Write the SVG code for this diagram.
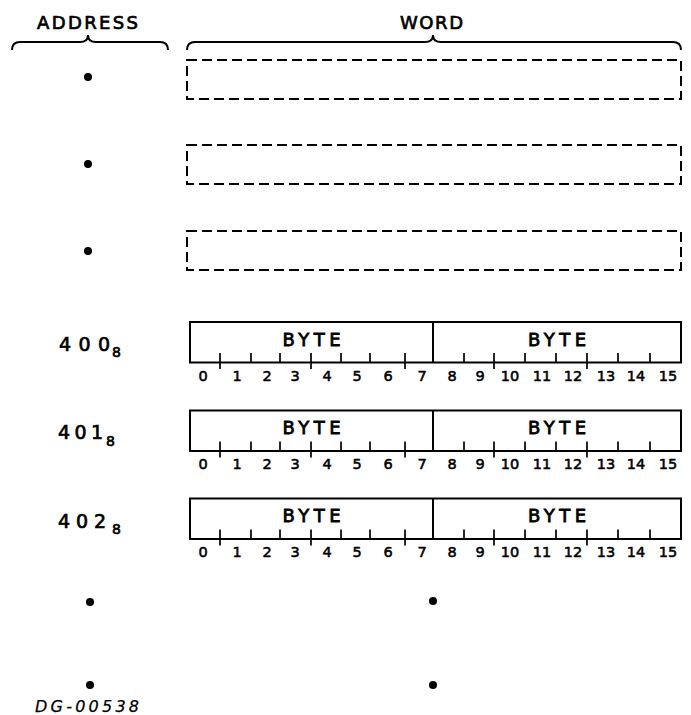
<svg xmlns="http://www.w3.org/2000/svg" width="691" height="715" viewBox="0 0 691 715">
<defs>
<style>
text{font-family:"DejaVu Sans","Liberation Sans",Arial,sans-serif;fill:#000;stroke:#000;stroke-width:0.7}
.hd{font-size:18px}
.addr{font-size:19px}
.sub{font-size:14px}
.byte{font-size:18px;text-anchor:middle;stroke-width:0.8}
.bit{font-size:14.5px;text-anchor:middle;stroke-width:0.55}
.dg{font-size:16px;font-style:italic;stroke-width:0.25}
.ln{fill:none;stroke:#000;stroke-width:2}
.dash{fill:none;stroke:#000;stroke-width:2;stroke-dasharray:10 5}
.tk{stroke:#000;stroke-width:1.7}
.dot{fill:#000}
</style>
<g id="scale">
<path class="tk" d="M251,353V362M280,353V362M341,353V362M370,353V362M464,353V362M525,353V362M556,353V362M618,353V362M650,353V362"/>
<path class="tk" d="M220,353V369M311,353V369M405,353V369M494,353V369M587,353V369"/>
<text class="bit" x="203" y="380.5">0</text>
<text class="bit" x="237" y="380.5">1</text>
<text class="bit" x="267" y="380.5">2</text>
<text class="bit" x="295" y="380.5">3</text>
<text class="bit" x="327" y="380.5">4</text>
<text class="bit" x="357" y="380.5">5</text>
<text class="bit" x="388" y="380.5">6</text>
<text class="bit" x="422" y="380.5">7</text>
<text class="bit" x="452" y="380.5">8</text>
<text class="bit" x="480" y="380.5">9</text>
<text class="bit" x="510" y="380.5">10</text>
<text class="bit" x="542" y="380.5">11</text>
<text class="bit" x="573" y="380.5">12</text>
<text class="bit" x="606" y="380.5">13</text>
<text class="bit" x="636" y="380.5">14</text>
<text class="bit" x="668" y="380.5">15</text>
</g>
<g id="wordbox">
<rect class="ln" x="190" y="322" width="491" height="40.5"/>
<line class="ln" x1="433" y1="322" x2="433" y2="362.5"/>
<text class="byte" x="311.5" y="345.5" textLength="58" lengthAdjust="spacing">BYTE</text>
<text class="byte" x="557" y="345.5" textLength="58" lengthAdjust="spacing">BYTE</text>
<use href="#scale"/>
</g>
</defs>

<g id="header-address">
<text class="hd" x="37" y="28.5" textLength="101" lengthAdjust="spacing">ADDRESS</text>
<path class="ln" d="M12,50 Q12,42 20,42 L80,42 Q88,42 88,35 Q88,42 96,42 L160,42 Q168,42 168,50"/>
</g>

<g id="header-word">
<text class="hd" x="400" y="28.5" textLength="63" lengthAdjust="spacing">WORD</text>
<path class="ln" d="M187,50 Q187,42 195,42 L425,42 Q433,42 433,35 Q433,42 441,42 L673,42 Q681,42 681,50"/>
</g>

<g id="word-unknown-1">
<circle class="dot" cx="88" cy="77" r="4"/>
<rect class="dash" x="187" y="60" width="494" height="39"/>
</g>
<g id="word-unknown-2">
<circle class="dot" cx="88" cy="164" r="4"/>
<rect class="dash" x="187" y="145" width="494" height="39"/>
</g>
<g id="word-unknown-3">
<circle class="dot" cx="88" cy="251" r="4"/>
<rect class="dash" x="187" y="231" width="494" height="39"/>
</g>

<g id="word-400">
<text class="addr" x="59" y="350.5" textLength="51" lengthAdjust="spacing">400</text>
<text class="sub" x="112" y="357">8</text>
<use href="#wordbox"/>
</g>
<g id="word-401">
<text class="addr" x="58" y="439" textLength="45" lengthAdjust="spacing">401</text>
<text class="sub" x="106" y="446">8</text>
<use href="#wordbox" y="88.5"/>
</g>
<g id="word-402">
<text class="addr" x="58" y="527.5" textLength="48" lengthAdjust="spacing">402</text>
<text class="sub" x="112" y="533.5">8</text>
<use href="#wordbox" y="176.5"/>
</g>

<g id="continuation">
<circle class="dot" cx="90" cy="602" r="4"/>
<circle class="dot" cx="433" cy="601" r="4"/>
<circle class="dot" cx="90" cy="685" r="4"/>
<circle class="dot" cx="433" cy="685" r="4"/>
</g>

<text class="dg" x="35" y="711.5" textLength="104" lengthAdjust="spacing">DG-00538</text>
</svg>
